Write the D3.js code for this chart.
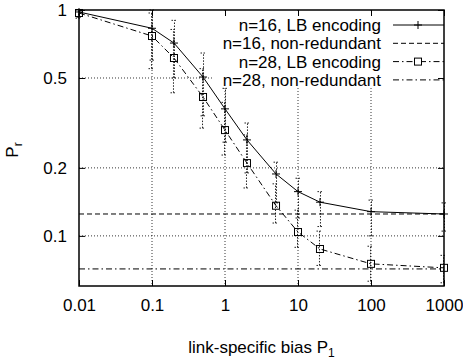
<!DOCTYPE html>
<html>
<head>
<meta charset="utf-8">
<script src="https://cdn.jsdelivr.net/npm/d3@7"></script>
<style>
  body { margin: 0; background: #fff; }
  svg { display: block; }
  text { font-family: "Liberation Sans", Arial, sans-serif; fill: #000; }
</style>
</head>
<body>
<script>
// Define the dimensions of the SVG
var w = 463;
var h = 360;
var margin = {left: 79, right: 19, top: 10, bottom: 74};
var pw = w - margin.left - margin.right;
var ph = h - margin.top - margin.bottom;

// Data
var biasValues = [0.01, 0.1, 0.2, 0.5, 1, 2, 5, 10, 20, 100, 1000];

var lb16 = [0.98, 0.83, 0.714, 0.505, 0.365, 0.266, 0.188, 0.157, 0.141, 0.128, 0.125];
var lb16Low = [0.93, 0.60, 0.50, 0.34, 0.26, 0.19, 0.14, 0.12, 0.11, 0.10, 0.105];
var lb16High = [1.0, 1.0, 0.90, 0.645, 0.45, 0.316, 0.212, 0.18, 0.157, 0.144, 0.14];

var lb28 = [0.97, 0.767, 0.613, 0.412, 0.294, 0.21, 0.136, 0.104, 0.0875, 0.0752, 0.0722];
var lb28Low = [0.92, 0.55, 0.43, 0.30, 0.228, 0.163, 0.114, 0.089, 0.074, 0.063, 0.062];
var lb28High = [1.0, 0.97, 0.82, 0.55, 0.39, 0.28, 0.17, 0.13, 0.105, 0.09, 0.082];

// non-redundant reference levels
var nonRed16 = 0.125;
var nonRed28 = 0.0714;

var xTicks = [0.01, 0.1, 1, 10, 100, 1000];
var xTickLabels = ["0.01", "0.1", "1", "10", "100", "1000"];
var yTicks = [1, 0.5, 0.2, 0.1];
var yTickLabels = ["1", "0.5", "0.2", "0.1"];

var legendLabels = ["n=16, LB encoding", "n=16, non-redundant", "n=28, LB encoding", "n=28, non-redundant"];

// Scales
var xScale = d3.scaleLog()
    .domain([0.01, 1000])
    .range([0, pw]);

var yScale = d3.scaleLog()
    .domain([0.06, 1])
    .range([ph, 0]);

// Create SVG element
var svg = d3.select("body")
    .append("svg")
    .attr("width", w)
    .attr("height", h);

var g = svg.append("g")
    .attr("transform", "translate(" + margin.left + "," + margin.top + ")");

var dotted = "1,2";
var dashed = "5,3";
var dashDot = "6,3,1.5,3";

// Grid lines (dotted), skipping the edges
g.selectAll(".vgrid")
    .data(xTicks.slice(1, -1))
    .enter()
    .append("line")
    .attr("class", "vgrid")
    .attr("x1", function(d) { return xScale(d); })
    .attr("x2", function(d) { return xScale(d); })
    .attr("y1", 0)
    .attr("y2", ph)
    .attr("stroke", "#000")
    .attr("stroke-width", 0.8)
    .attr("stroke-dasharray", dotted);

g.selectAll(".hgrid")
    .data(yTicks.slice(1))
    .enter()
    .append("line")
    .attr("class", "hgrid")
    .attr("x1", 0)
    .attr("x2", pw)
    .attr("y1", function(d) { return yScale(d); })
    .attr("y2", function(d) { return yScale(d); })
    .attr("stroke", "#000")
    .attr("stroke-width", 0.8)
    .attr("stroke-dasharray", dotted);

// Opaque key area hides the grid behind it
g.append("rect")
    .attr("x", 134)
    .attr("y", 1)
    .attr("width", pw - 134 - 1)
    .attr("height", 77)
    .attr("fill", "#fff");

// Error bars
function errorBars(cls, lows, highs, dx) {
    var data = biasValues.map(function(x, i) {
        return {x: x, lo: lows[i], hi: highs[i]};
    });
    var eg = g.append("g").attr("class", cls)
        .attr("stroke", "#222")
        .attr("stroke-width", 1)
        .attr("stroke-dasharray", "1.5,1.5");
    eg.selectAll(".bar")
        .data(data)
        .enter()
        .append("line")
        .attr("x1", function(d) { return xScale(d.x) + dx; })
        .attr("x2", function(d) { return xScale(d.x) + dx; })
        .attr("y1", function(d) { return yScale(d.lo); })
        .attr("y2", function(d) { return yScale(d.hi); });
    ["lo", "hi"].forEach(function(k) {
        eg.selectAll(".cap-" + k)
            .data(data)
            .enter()
            .append("line")
            .attr("x1", function(d) { return xScale(d.x) + dx - 3; })
            .attr("x2", function(d) { return xScale(d.x) + dx + 3; })
            .attr("y1", function(d) { return yScale(d[k]); })
            .attr("y2", function(d) { return yScale(d[k]); });
    });
}
errorBars("err16", lb16Low, lb16High, 0.5);
errorBars("err28", lb28Low, lb28High, -0.5);

// Non-redundant horizontal levels
g.append("line")
    .attr("x1", 0).attr("x2", pw)
    .attr("y1", yScale(nonRed16)).attr("y2", yScale(nonRed16))
    .attr("stroke", "#000")
    .attr("stroke-width", 1)
    .attr("stroke-dasharray", dashed);

g.append("line")
    .attr("x1", 0).attr("x2", pw)
    .attr("y1", yScale(nonRed28)).attr("y2", yScale(nonRed28))
    .attr("stroke", "#000")
    .attr("stroke-width", 1)
    .attr("stroke-dasharray", dashDot);

// LB encoding curves
var line = d3.line()
    .x(function(d) { return xScale(d[0]); })
    .y(function(d) { return yScale(d[1]); });

var pts16 = biasValues.map(function(x, i) { return [x, lb16[i]]; });
var pts28 = biasValues.map(function(x, i) { return [x, lb28[i]]; });

g.append("path")
    .attr("d", line(pts16))
    .attr("fill", "none")
    .attr("stroke", "#000")
    .attr("stroke-width", 1);

g.append("path")
    .attr("d", line(pts28))
    .attr("fill", "none")
    .attr("stroke", "#000")
    .attr("stroke-width", 1)
    .attr("stroke-dasharray", dashDot);

// Plus markers
function plusPath(cx, cy, s) {
    return "M" + (cx - s) + "," + cy + "H" + (cx + s) +
        "M" + cx + "," + (cy - s) + "V" + (cy + s);
}
g.selectAll(".plus")
    .data(pts16)
    .enter()
    .append("path")
    .attr("class", "plus")
    .attr("d", function(d) { return plusPath(xScale(d[0]), yScale(d[1]), 4); })
    .attr("stroke", "#000")
    .attr("stroke-width", 1);

// Square markers
g.selectAll(".sq")
    .data(pts28)
    .enter()
    .append("rect")
    .attr("class", "sq")
    .attr("x", function(d) { return xScale(d[0]) - 3.5; })
    .attr("y", function(d) { return yScale(d[1]) - 3.5; })
    .attr("width", 7)
    .attr("height", 7)
    .attr("fill", "none")
    .attr("stroke", "#000")
    .attr("stroke-width", 1);

// Axes (gnuplot style: ticks inward on all four sides)
var xAxis = d3.axisBottom(xScale)
    .tickValues(xTicks)
    .tickFormat(function(d, i) { return xTickLabels[i]; })
    .tickSizeInner(-6)
    .tickSizeOuter(0)
    .tickPadding(13);
g.append("g")
    .attr("class", "axis")
    .attr("transform", "translate(0," + ph + ")")
    .call(xAxis);

var yAxis = d3.axisLeft(yScale)
    .tickValues(yTicks)
    .tickFormat(function(d, i) { return yTickLabels[i]; })
    .tickSizeInner(-6)
    .tickSizeOuter(0)
    .tickPadding(12);
g.append("g")
    .attr("class", "axis")
    .call(yAxis);

g.append("g")
    .attr("class", "axis mirror")
    .call(d3.axisTop(xScale).tickValues(xTicks).tickFormat("").tickSizeInner(-6).tickSizeOuter(0));
g.append("g")
    .attr("class", "axis mirror")
    .attr("transform", "translate(" + pw + ",0)")
    .call(d3.axisRight(yScale).tickValues(yTicks).tickFormat("").tickSizeInner(-6).tickSizeOuter(0));

svg.selectAll(".axis text")
    .attr("font-size", "17px")
    .attr("font-family", "Liberation Sans, Arial, sans-serif");
svg.selectAll(".axis line").attr("stroke", "#000");
svg.selectAll(".axis path").remove();

// Frame
g.append("rect")
    .attr("x", 0)
    .attr("y", 0)
    .attr("width", pw)
    .attr("height", ph)
    .attr("fill", "none")
    .attr("stroke", "#000")
    .attr("stroke-width", 1.5);

// Legend
var legendRows = [
    {dash: null, marker: "plus"},
    {dash: dashed, marker: null},
    {dash: dashDot, marker: "square"},
    {dash: dashDot, marker: null}
];
var legend = g.append("g").attr("class", "legend");
legendRows.forEach(function(r, i) {
    var ly = 15 + i * 18.3;
    legend.append("text")
        .attr("x", 302)
        .attr("y", ly)
        .attr("dy", "0.35em")
        .attr("text-anchor", "end")
        .attr("font-size", "17px")
        .text(legendLabels[i]);
    legend.append("line")
        .attr("x1", 314).attr("x2", pw)
        .attr("y1", ly).attr("y2", ly)
        .attr("stroke", "#000")
        .attr("stroke-width", 1)
        .attr("stroke-dasharray", r.dash);
    if (r.marker === "plus") {
        legend.append("path")
            .attr("d", plusPath(339, ly, 4))
            .attr("stroke", "#000");
    } else if (r.marker === "square") {
        legend.append("rect")
            .attr("x", 335.5).attr("y", ly - 3.5)
            .attr("width", 7).attr("height", 7)
            .attr("fill", "#fff")
            .attr("stroke", "#000");
    }
});

// Axis titles
var yTitle = svg.append("text")
    .attr("transform", "translate(18,150) rotate(-90)")
    .attr("text-anchor", "middle")
    .attr("font-size", "17px");
yTitle.append("tspan").text("P");
yTitle.append("tspan").attr("font-size", "12px").attr("dy", 4).text("r");

var xTitle = svg.append("text")
    .attr("x", margin.left + pw / 2)
    .attr("y", 353)
    .attr("text-anchor", "middle")
    .attr("font-size", "17px");
xTitle.append("tspan").text("link-specific bias P");
xTitle.append("tspan").attr("font-size", "12px").attr("dy", 4).text("1");
</script>
</body>
</html>
